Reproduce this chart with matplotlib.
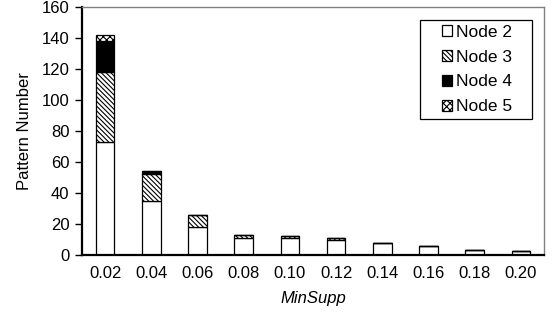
import numpy as np
import matplotlib.pyplot as plt
from matplotlib.patches import Rectangle

plt.rcParams['font.family'] = ['Liberation Sans', 'DejaVu Sans']
plt.rcParams['hatch.linewidth'] = 0.8

# values
minsupp = ['0.02', '0.04', '0.06', '0.08', '0.10', '0.12', '0.14', '0.16', '0.18', '0.20']
node2 = [73, 35, 18, 11, 11, 10, 7.5, 5.5, 3.5, 2.5]
node3 = [45, 17, 8, 2, 1, 1, 0, 0, 0, 0]
node4 = [20, 2, 0, 0, 0, 0, 0, 0, 0, 0]
node5 = [4, 0, 0, 0, 0, 0, 0, 0, 0, 0]

fig = plt.figure(figsize=(5.53, 3.2), dpi=100)
ax = fig.add_axes([82/553, 1 - 255/320, 462/553, 248/320])

x = np.arange(len(minsupp))
w = 0.4
bottom = np.zeros(len(x))
series = [(node2, 'white', None, 'Node 2'),
          (node3, 'white', '\\' * 7, 'Node 3'),
          (node4, 'black', None, 'Node 4'),
          (node5, 'white', 'xxxxx', 'Node 5')]
for vals, fc, hatch, lab in series:
    vals = np.array(vals, dtype=float)
    ax.bar(x, vals, w, bottom=bottom, color=fc, edgecolor='black',
           linewidth=0.9, hatch=hatch, label=lab)
    bottom += vals

fs = 12
ax.set_xlim(-0.5, len(x) - 0.5)
ax.set_ylim(0, 160)
ax.set_yticks(range(0, 161, 20))
ax.set_xticks(x)
ax.set_xticklabels(minsupp)
ax.tick_params(axis='x', length=0, pad=8, labelsize=fs)
ax.tick_params(axis='y', length=5, width=1, direction='out', pad=4, labelsize=fs)

ax.spines['left'].set_linewidth(1.6)
ax.spines['bottom'].set_linewidth(1.6)
for s in ['top', 'right']:
    ax.spines[s].set_color('#808080')
    ax.spines[s].set_linewidth(1.0)

ax.set_ylabel('Pattern Number', fontsize=fs, labelpad=7)
ax.set_xlabel('MinSupp', fontsize=fs, style='italic', labelpad=7)

# legend without its own frame; the box is drawn separately (wider padding)
ax.legend(loc='upper left', bbox_to_anchor=(442/553, 1 - 25/320),
          bbox_transform=fig.transFigure, frameon=False,
          fontsize=12.5, handlelength=0.6, handleheight=0.6,
          handletextpad=0.2, borderpad=0, labelspacing=0.56, borderaxespad=0)
fig.patches.append(Rectangle((420/553, 1 - 119/320), 112/553, 99/320,
                             transform=fig.transFigure, fill=False,
                             edgecolor='black', linewidth=0.9))

fig.savefig('out.png', dpi=100)
